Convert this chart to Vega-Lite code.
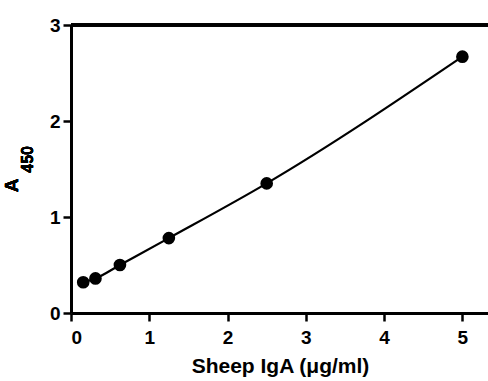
{
  "$schema": "https://vega.github.io/schema/vega-lite/v6.json",
  "width": 418,
  "height": 288,
  "autosize": {"type": "none"},
  "padding": {"left": 71, "top": 25, "right": 0, "bottom": 68},
  "background": "white",
  "view": {"stroke": null},
  "config": {
    "font": "Liberation Sans",
    "axis": {
      "domainColor": "black",
      "domainWidth": 3,
      "tickColor": "black",
      "tickWidth": 2.5,
      "tickSize": 8,
      "labelColor": "black",
      "labelFont": "Liberation Sans",
      "labelFontWeight": "bold",
      "labelFontSize": 19,
      "titleFont": "Liberation Sans",
      "titleFontWeight": "bold",
      "titleFontSize": 21,
      "titleColor": "black",
      "grid": false
    }
  },
  "data": {
    "values": [
      {"conc": 0.156, "a450": 0.32},
      {"conc": 0.3125, "a450": 0.36},
      {"conc": 0.625, "a450": 0.5},
      {"conc": 1.25, "a450": 0.78},
      {"conc": 2.5, "a450": 1.35},
      {"conc": 5, "a450": 2.67}
    ]
  },
  "layer": [
    {
      "mark": {"type": "rule", "color": "black", "strokeWidth": 3},
      "encoding": {"y": {"datum": 3, "type": "quantitative"}}
    },
    {
      "mark": {"type": "line", "color": "black", "strokeWidth": 2.2, "interpolate": "monotone"},
      "encoding": {
        "x": {
          "field": "conc", "type": "quantitative",
          "scale": {"domain": [0, 5.34], "nice": false, "zero": true},
          "axis": {"values": [0, 1, 2, 3, 4, 5], "format": "d", "title": "Sheep IgA (μg/ml)", "titlePadding": 8, "labelPadding": 7}
        },
        "y": {
          "field": "a450", "type": "quantitative",
          "scale": {"domain": [0, 3], "nice": false},
          "axis": {"values": [0, 1, 2, 3], "format": "d", "title": null, "labelPadding": 3}
        }
      }
    },
    {
      "mark": {"type": "point", "filled": true, "color": "black", "opacity": 1, "size": 160},
      "encoding": {
        "x": {"field": "conc", "type": "quantitative"},
        "y": {"field": "a450", "type": "quantitative"}
      }
    },
    {
      "mark": {"type": "text", "text": "A", "angle": 270, "align": "center", "baseline": "alphabetic", "font": "Liberation Sans", "fontWeight": "bold", "fontSize": 19, "color": "black"},
      "encoding": {
        "x": {"datum": -0.68, "type": "quantitative"},
        "y": {"datum": 1.33, "type": "quantitative"}
      }
    },
    {
      "mark": {"type": "text", "text": "450", "angle": 270, "align": "center", "baseline": "alphabetic", "font": "Liberation Sans", "fontWeight": "bold", "fontSize": 16, "color": "black"},
      "encoding": {
        "x": {"datum": -0.49, "type": "quantitative"},
        "y": {"datum": 1.6, "type": "quantitative"}
      }
    }
  ]
}
